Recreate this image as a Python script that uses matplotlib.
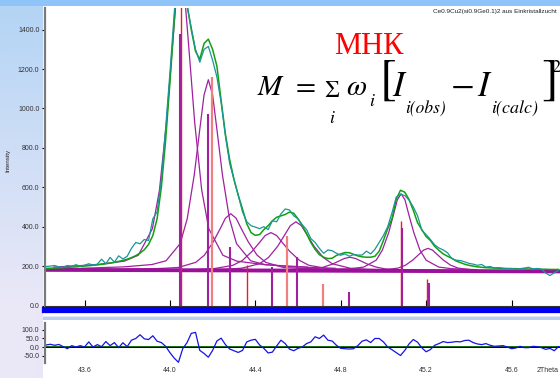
import numpy as np
import matplotlib
matplotlib.use('Agg')
import matplotlib.pyplot as plt
from matplotlib.patches import Rectangle

plt.rcParams['font.family'] = ['Liberation Sans', 'DejaVu Sans']
plt.rcParams['mathtext.fontset'] = 'stix'

# 2theta grid of the measured pattern
two_theta = np.round(np.arange(43.42, 45.8201, 0.02), 2)

# observed intensity (teal)
obs = [198, 200, 203, 196, 194, 203, 199, 207, 200, 204,
       212, 205, 210, 235, 212, 244, 220, 252, 236, 250,
       290, 320, 313, 335, 330, 440, 475, 640, 900, 1180,
       1480, 1780, 1760, 1520, 1410, 1300, 1235, 1300, 1315, 1245,
       1160, 1030, 860, 720, 640, 560, 475, 425, 405, 398,
       390, 400, 385, 430, 425, 465, 490, 485, 455, 440,
       410, 385, 340, 320, 290, 265, 282, 278, 265, 255,
       262, 250, 258, 256, 256, 276, 262, 285, 320, 355,
       400, 470, 550, 565, 558, 535, 500, 455, 381, 360,
       335, 308, 292, 282, 268, 238, 230, 228, 222, 214,
       210, 204, 208, 195, 198, 190, 192, 189, 186, 188,
       184, 187, 190, 194, 186, 188, 185, 165, 152, 166,
       178]

# calculated profile (green)
calc = [188, 189, 190, 191, 192, 193, 195, 196, 198, 200,
        202, 204, 206, 209, 212, 215, 219, 224, 229, 235,
        243, 253, 266, 283, 310, 355, 440, 600, 840, 1130,
        1440, 1760, 1780, 1530, 1400, 1290, 1250, 1330, 1352, 1300,
        1215, 1040, 870, 740, 640, 560, 490, 415, 370, 356,
        360, 385, 405, 430, 448, 455, 462, 474, 468, 440,
        405, 365, 320, 285, 258, 245, 238, 240, 254, 262,
        269, 268, 260, 252, 247, 245, 245, 250, 275, 330,
        390, 440, 540, 585, 575, 538, 483, 420, 385, 350,
        330, 300, 280, 262, 250, 240, 226, 218, 210, 204,
        200, 196, 194, 192, 191, 190, 189, 188, 188, 187,
        187, 186, 186, 185, 185, 184, 184, 184, 183, 183,
        183]

# difference obs - calc (lower panel)
diff = [12, 16, 10, 15, 2, -10, 8, 0, 8, 0,
        30, 0, 14, 2, 32, 8, 26, -4, 25, 2,
        40, 50, 72, 48, 44, 66, 34, 26, 4, -33,
        -65, -90, -10, 25, 80, 86, -20, -38, -60, -20,
        35, 52, 14, -12, -22, -32, -20, 30, 40, 45,
        12, -8, -35, -30, 6, 40, 20, -12, -22, -8,
        0, 20, 30, 60, 50, 70, 40, 35, 10, -8,
        -10, -12, -10, 8, 34, 42, 26, 50, 50, 30,
        0, -16, -33, -50, -20, 18, 44, 28, -5, -28,
        -15, 10, 20, 32, 26, 28, 32, 30, 38, 40,
        26, 18, 14, 20, 10, 4, 6, 8, 0, -10,
        -6, 4, -4, -4, 4, 2, -4, -14, -8, -22,
        2]

# background line
bg_x = [43.415, 45.827]
bg_y = [181, 173]

# single peak profiles (purple)
c1_x = [43.456, 43.654, 43.786, 43.852, 43.918, 43.951, 43.984, 44.010, 44.030, 44.05,
        44.070, 44.090, 44.116, 44.149, 44.182, 44.248, 44.314, 44.446, 44.644]
c1_y = [195, 207, 225, 255, 390, 585, 930, 1290, 1560, 1680,
        1560, 1290, 930, 585, 390, 255, 225, 207, 195]
c2_x = [43.586, 43.784, 43.916, 43.982, 44.048, 44.081, 44.114, 44.140, 44.160, 44.18,
        44.200, 44.220, 44.246, 44.279, 44.312, 44.378, 44.444, 44.576, 44.774]
c2_y = [189, 196, 208, 227, 314, 440, 663, 895, 1069, 1146,
        1069, 895, 663, 440, 314, 227, 208, 196, 189]
c3_x = [43.793, 43.957, 44.039, 44.121, 44.162, 44.203, 44.236, 44.260, 44.285,
        44.310, 44.334, 44.367, 44.408, 44.449, 44.531, 44.613, 44.777]
c3_y = [184, 188, 193, 219, 256, 323, 391, 443, 466,
        443, 391, 323, 256, 219, 193, 188, 184]
c4_x = [43.939, 44.117, 44.206, 44.295, 44.340, 44.384, 44.420, 44.446, 44.473,
        44.500, 44.526, 44.562, 44.607, 44.651, 44.740, 44.829, 45.007]
c4_y = [180, 183, 187, 204, 229, 274, 320, 355, 370,
        355, 320, 274, 229, 204, 187, 183, 180]
c5_x = [44.080, 44.250, 44.335, 44.420, 44.462, 44.505, 44.539, 44.564, 44.590,
        44.616, 44.641, 44.675, 44.718, 44.760, 44.845, 44.930, 45.100]
c5_y = [181, 184, 189, 212, 244, 301, 361, 405, 425,
        405, 361, 301, 244, 212, 189, 184, 181]
c6_x = [44.351, 44.515, 44.597, 44.679, 44.720, 44.761, 44.794, 44.818, 44.843,
        44.868, 44.892, 44.925, 44.966, 45.007, 45.089, 45.171, 45.335]
c6_y = [177, 178, 179, 186, 195, 210, 227, 239, 245,
        239, 227, 210, 195, 186, 179, 178, 177]
c7_x = [44.732, 44.849, 44.908, 44.966, 44.995, 45.025, 45.048, 45.065, 45.083,
        45.101, 45.118, 45.142, 45.171, 45.200, 45.259, 45.317, 45.434]
c7_y = [182, 187, 195, 230, 281, 371, 465, 536, 567,
        536, 465, 371, 281, 230, 195, 187, 182]
c8_x = [44.789, 44.929, 44.999, 45.069, 45.104, 45.139, 45.167, 45.188, 45.209,
        45.230, 45.251, 45.279, 45.314, 45.349, 45.419, 45.489, 45.629]
c8_y = [176, 177, 180, 190, 205, 232, 260, 281, 290,
        281, 260, 232, 205, 190, 180, 177, 176]

# reflection sticks
fit_pos = [44.047, 44.180, 44.281, 44.477, 44.594, 44.840, 45.086, 45.214]
fit_int = [1380, 973, 296, 197, 247, 71, 392, 115]
ref_pos = [44.052, 44.360, 45.082, 45.206]
ref_int = [1700, 205, 431, 135]
ref2_pos = [44.196, 44.547, 44.716]
ref2_int = [1162, 355, 107]

x_ticks = [43.6, 44.0, 44.4, 44.8, 45.2, 45.6, 45.77]
x_labels = ['43.6', '44.0', '44.4', '44.8', '45.2', '45.6', '2Theta']

W, H = 560, 378
fig = plt.figure(figsize=(W / 100, H / 100), dpi=100)


def px(x, y):
    # pixel position -> figure fraction
    return x / W, 1 - y / H


# gradient backdrop
bg_ax = fig.add_axes([0, 0, 1, 1], zorder=-10)
t = np.clip(np.linspace(0, 1, H) / 0.8, 0, 1)[:, None, None]
s = np.linspace(0, 1, W)[None, :, None]
top = np.array([0.70, 0.83, 0.96])
low = np.array([0.92, 0.91, 0.97])
grad = top * (1 - t) + low * t
grad = grad * (1 - 0.3 * s) + 0.3 * s * np.array([0.80, 0.88, 0.98])
grad[:6] = [0.56, 0.77, 0.97]
bg_ax.imshow(grad, aspect='auto', extent=[0, 1, 0, 1])
bg_ax.axis('off')

for (x0, y0, x1, y1, fc) in [(43, 6, 560, 316, 'white'),
                             (43, 316.5, 560, 319.5, '#b8cfee'),
                             (43, 320, 560, 378, 'white')]:
    fig.patches.append(Rectangle((x0 / W, 1 - y1 / H), (x1 - x0) / W, (y1 - y0) / H,
                                 transform=fig.transFigure, facecolor=fc,
                                 edgecolor='none', zorder=-5))

xlim = (43.415, 45.827)
purple = '#a020a0'

ax = fig.add_axes([45 / W, 1 - 305.5 / H, 515 / W, 297.5 / H])
ax.patch.set_alpha(0)
ax.set_xlim(*xlim)
ax.set_ylim(0, 1510)

for cx, cy in [(c1_x, c1_y), (c2_x, c2_y), (c3_x, c3_y), (c4_x, c4_y),
               (c5_x, c5_y), (c6_x, c6_y), (c7_x, c7_y), (c8_x, c8_y)]:
    ax.plot(cx, cy, color=purple, lw=0.9)
ax.plot(bg_x, bg_y, color='#9a109a', lw=2.8)

ax.vlines(ref_pos, 0, ref_int, color='#ee1c1c', lw=1.0)
ax.vlines(ref2_pos, 0, ref2_int, color='#f08080', lw=1.6)
ax.vlines(fit_pos, 0, fit_int, color=purple, lw=1.5)

ax.plot(two_theta, calc, color='#12a012', lw=1.1)
ax.plot(two_theta, obs, color='#1a9696', lw=0.9)

# blue marker band below the axis
ax.axhline(-23, color='#0000f0', lw=4.5, clip_on=False)

ax.spines['top'].set_visible(False)
ax.spines['right'].set_visible(False)
ax.spines['left'].set_color('#7a7a7a')
ax.spines['left'].set_linewidth(1.6)
ax.spines['bottom'].set_color('#333333')
ax.set_yticks([0, 200, 400, 600, 800, 1000, 1200, 1400])
ax.set_yticklabels(['%.1f' % v for v in ax.get_yticks()])
ax.tick_params(axis='y', direction='out', length=2.5, width=0.8, labelsize=5,
               labelcolor='#333333', pad=1.5)
ax.set_xticks(x_ticks[:-1])
ax.tick_params(axis='x', direction='in', length=4, width=0.8, labelbottom=False)

ax2 = fig.add_axes([45 / W, 1 - 363 / H, 515 / W, 40 / H])
ax2.patch.set_alpha(0)
ax2.set_xlim(*xlim)
ax2.set_ylim(-94, 141)
ax2.axhline(0, color='#107010', lw=1.4)
ax2.axhline(0, color='black', lw=0.7)
ax2.plot(two_theta, diff, color='#1414e6', lw=0.9)
for side in ['top', 'right', 'bottom']:
    ax2.spines[side].set_visible(False)
ax2.spines['left'].set_color('#7a7a7a')
ax2.spines['left'].set_linewidth(1.6)
ax2.set_yticks([-50, 0, 50, 100])
ax2.set_yticklabels(['%.1f' % v for v in ax2.get_yticks()])
ax2.tick_params(axis='y', direction='out', length=2.5, width=0.8, labelsize=5,
                labelcolor='#333333', pad=1.5)
ax2.set_xticks(x_ticks)
ax2.set_xticklabels(x_labels)
ax2.tick_params(axis='x', length=0, labelsize=5, labelcolor='#333333', pad=3)

fig.text(*px(8, 160), 'Intensity', rotation=90, fontsize=4.5,
         ha='center', va='center', color='#222222')
fig.text(*px(557, 12), 'Ce0.9Cu2(si0.9Ge0.1)2 aus Einkristallzucht',
         ha='right', va='center', fontsize=4.6, color='#222222')
fig.text(*px(368.5, 46), 'МНК', color='red', family=['Liberation Serif'],
         fontsize=22, ha='center', va='center')

# least squares formula, set piece by piece
serif = ['STIXGeneral', 'DejaVu Serif']
pieces = [
    # text, x, y, size, italic, va
    ('M', 258, 95, 21, True, 'baseline'),
    ('=', 296, 95, 21, False, 'baseline'),
    ('\u03a3', 324, 97, 17, False, 'baseline'),
    ('i', 329, 123, 13, True, 'baseline'),
    ('\u03c9', 346, 95, 21, True, 'baseline'),
    ('i', 369, 106, 13, True, 'baseline'),
    ('[', 380, 81, 36, False, 'center'),
    ('I', 392, 96, 25, True, 'baseline'),
    ('i(obs)', 405, 114, 12.5, True, 'baseline'),
    ('\u2212', 451, 96, 25, False, 'baseline'),
    ('I', 477, 96, 25, True, 'baseline'),
    ('i(calc)', 491, 114, 13, True, 'baseline'),
    (']', 541, 81, 36, False, 'center'),
    ('2', 551, 72, 13, False, 'baseline'),
]
for txt, x, y, size, italic, va in pieces:
    fig.text(*px(x, y), txt, fontsize=size, family=serif, va=va,
             style='italic' if italic else 'normal')

fig.savefig('out.png', dpi=100)
